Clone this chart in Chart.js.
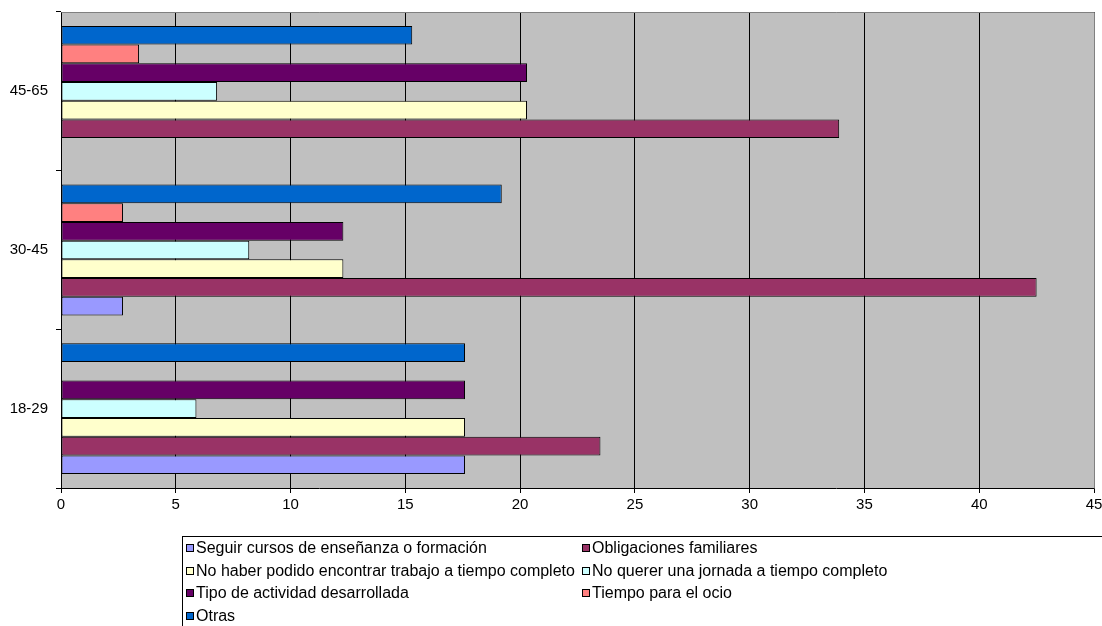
<!DOCTYPE html>
<html><head><meta charset="utf-8">
<script src="https://cdn.jsdelivr.net/npm/chart.js@4/dist/chart.umd.min.js"></script>
<style>
html,body{margin:0;padding:0;background:#fff;overflow:hidden}
#wrap{position:relative;width:1102px;height:626px}
#c{position:absolute;left:0;top:0}
#legend{position:absolute;left:182px;top:536px;width:960px;height:100px;border-left:1px solid #000;border-top:1px solid #000;font:16px "Liberation Sans",Arial,sans-serif;color:#000}
.item{position:absolute;white-space:nowrap;line-height:18px;height:18px}
.sw{position:absolute;left:0;top:5px;width:6px;height:6px;border:1px solid #000}
.tx{position:absolute;left:10px;top:0}
</style>
</head><body>
<div id="wrap"><canvas id="c" width="1102" height="626"></canvas><div id="legend"></div></div>
<script>
// Categories, top to bottom as drawn
const categories = ['45-65', '30-45', '18-29'];
// Series values (same order as categories)
const seguirCursos   = [0, 2.7, 17.6];
const obligaciones   = [33.9, 42.5, 23.5];
const noHaberPodido  = [20.3, 12.3, 17.6];
const noQuerer       = [6.8, 8.2, 5.9];
const tipoActividad  = [20.3, 12.3, 17.6];
const tiempoOcio     = [3.4, 2.7, 0];
const otras          = [15.3, 19.2, 17.6];
// Tick labels of the value axis
const xTicks = [0, 5, 10, 15, 20, 25, 30, 35, 40, 45];

const seriesNames = [
  'Seguir cursos de enseñanza o formación',
  'Obligaciones familiares',
  'No haber podido encontrar trabajo a tiempo completo',
  'No querer una jornada a tiempo completo',
  'Tipo de actividad desarrollada',
  'Tiempo para el ocio',
  'Otras'
];
const seriesValues = [seguirCursos, obligaciones, noHaberPodido, noQuerer, tipoActividad, tiempoOcio, otras];
const seriesColors = ['#9999FF', '#993366', '#FFFFCC', '#CCFFFF', '#660066', '#FF8080', '#0066CC'];

const legendSeries = seriesNames.map((n, i) => ({label: n, data: seriesValues[i], color: seriesColors[i]}));
// within each group the first series sits at the bottom, so draw order is reversed
const datasets = legendSeries.slice().reverse().map(s => ({
  label: s.label,
  data: s.data,
  backgroundColor: s.color,
  borderColor: '#000000',
  borderWidth: 1,
  borderSkipped: false,
  categoryPercentage: 0.825,
  barPercentage: 1.0
}));

const plotBg = {
  id: 'plotBg',
  beforeDraw(chart) {
    const {ctx, chartArea: a} = chart;
    ctx.save();
    ctx.fillStyle = '#C0C0C0';
    ctx.fillRect(a.left, a.top, a.right - a.left, a.bottom - a.top);
    ctx.restore();
  },
  afterDraw(chart) {
    const {ctx, chartArea: a} = chart;
    ctx.save();
    ctx.strokeStyle = '#808080';
    ctx.lineWidth = 1;
    ctx.beginPath();
    ctx.moveTo(Math.round(a.left) + 0.5, Math.round(a.top) + 0.5);
    ctx.lineTo(Math.round(a.right) + 0.5, Math.round(a.top) + 0.5);
    ctx.lineTo(Math.round(a.right) + 0.5, Math.round(a.bottom) + 0.5);
    ctx.stroke();
    ctx.restore();
  }
};

const font = {family: '"Liberation Sans", Arial, sans-serif', size: 15};

new Chart(document.getElementById('c'), {
  type: 'bar',
  data: {labels: categories, datasets},
  options: {
    responsive: false,
    animation: false,
    indexAxis: 'y',
    layout: {padding: {left: 0, top: 12, right: 8, bottom: 108}},
    plugins: {legend: {display: false}, tooltip: {enabled: false}},
    scales: {
      x: {
        min: 0, max: 45,
        afterBuildTicks(scale) { scale.ticks = xTicks.map(v => ({value: v})); },
        afterFit(scale) { scale.height = 30; scale.paddingLeft = 0; scale.paddingRight = 0; },
        ticks: {color: '#000', font, padding: 3, maxRotation: 0},
        grid: {color: '#000', lineWidth: 1, drawTicks: true, tickLength: 5},
        border: {color: '#000', width: 1}
      },
      y: {
        afterFit(scale) { scale.width = 61; scale.paddingTop = 0; scale.paddingBottom = 0; },
        ticks: {color: '#000', font, padding: 8},
        grid: {drawOnChartArea: false, drawTicks: true, tickLength: 5, offset: true, color: '#000'},
        border: {color: '#000', width: 1}
      }
    }
  },
  plugins: [plotBg]
});

// Legend (two columns, like the original)
const lg = document.getElementById('legend');
legendSeries.forEach((s, i) => {
  const col = i % 2, row = Math.floor(i / 2);
  const it = document.createElement('div');
  it.className = 'item';
  it.style.left = (col ? 399 : 3) + 'px';
  it.style.top = (2 + row * 22.7) + 'px';
  const sw = document.createElement('span');
  sw.className = 'sw';
  sw.style.background = s.color;
  const tx = document.createElement('span');
  tx.className = 'tx';
  tx.textContent = s.label;
  it.appendChild(sw); it.appendChild(tx);
  lg.appendChild(it);
});
</script>
</body></html>
